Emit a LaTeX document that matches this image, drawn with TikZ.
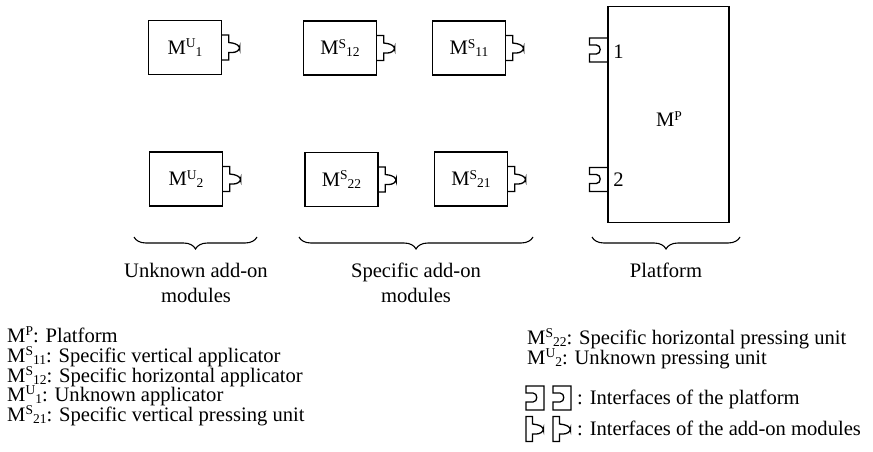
\documentclass[tikz,border=0pt]{standalone}
\usepackage{fontspec}
\setmainfont{Liberation Serif}
\usetikzlibrary{decorations.pathreplacing}
\newcommand{\ModSym}[2]{M\raisebox{0.32em}{\fontsize{13.5}{13.5}\selectfont #1}\raisebox{-0.1em}{\fontsize{13.5}{13.5}\selectfont #2}}
\newcommand{\ModSupOnly}[1]{M\raisebox{0.32em}{\fontsize{13.5}{13.5}\selectfont #1}}
\tikzset{
  every node/.style={font=\fontsize{20.6}{20.6}\selectfont, inner sep=0pt},
  modbox/.style={draw, line width=1.4pt, minimum width=73pt, minimum height=54pt},
  platbox/.style={draw, line width=1.4pt, minimum width=121pt, minimum height=216pt},
  bracestyle/.style={decorate, decoration={brace, amplitude=12pt}, line width=1.1pt},
  legtext/.style={anchor=base west},
  grouptext/.style={anchor=base},
  plug/.pic={\draw[line width=1.3pt] (0,-12.5) -- (6.5,-12.5) -- (6.5,-5)
      [rounded corners=2.5pt] -- (13,-4) -- (17.5,-1) -- (17.5,2) -- (13,5)
      [sharp corners] -- (6.5,5) -- (6.5,12.5) -- (0,12.5);},
  plugsym/.pic={\draw[line width=1.3pt] (0,-12.5) -- (6.5,-12.5) -- (6.5,-5)
      [rounded corners=2.5pt] -- (13,-4) -- (17.5,-1) -- (17.5,2) -- (13,5)
      [sharp corners] -- (6.5,5) -- (6.5,12.5) -- (0,12.5) -- cycle;},
  socket/.pic={\draw[line width=1.3pt] (0,-12) -- (-19,-12) -- (-19,-5) -- (-12,-5)
      .. controls (-7,-5) and (-7,4) .. (-12,4) -- (-19,4) -- (-19,12) -- (0,12);},
  socketsym/.pic={\draw[line width=1.3pt] (0,-12) -- (-18,-12) -- (-18,-5) -- (-11,-5)
      .. controls (-6,-5) and (-6,4) .. (-11,4) -- (-18,4) -- (-18,12) -- (0,12) -- cycle;},
}
\begin{document}
\begin{tikzpicture}[x=1pt,y=-1pt]
\useasboundingbox (0,0) rectangle (873,452);

% add-on modules
\node[modbox] (mu1) at (185,47.5) {\ModSym{U}{1}};
\node[modbox] (mu2) at (186,179) {\ModSym{U}{2}};
\node[modbox] (ms12) at (340,48) {\ModSym{S}{12}};
\node[modbox] (ms11) at (469,48) {\ModSym{S}{11}};
\node[modbox] (ms22) at (341.5,179.5) {\ModSym{S}{22}};
\node[modbox] (ms21) at (471,179) {\ModSym{S}{21}};
\foreach \m in {mu1,mu2,ms12,ms11,ms22,ms21} {\pic at (\m.east) {plug};}

% platform
\node[platbox] (mp) at (668.5,114.5) {};
\node (mpl) at (669,119) {\ModSupOnly{P}};
\coordinate (s1) at (608.4,50);
\coordinate (s2) at (608.4,179.5);
\pic at (s1) {socket};
\pic at (s2) {socket};
\node (n1) at (618.5,52) {1};
\node (n2) at (618.5,180) {2};

% braces
\coordinate (b1l) at (134,237); \coordinate (b1r) at (257,237);
\coordinate (b2l) at (299,237); \coordinate (b2r) at (533,237);
\coordinate (b3l) at (592,237); \coordinate (b3r) at (740,237);
\draw[bracestyle] (b1r) -- (b1l);
\draw[bracestyle] (b2r) -- (b2l);
\draw[bracestyle] (b3r) -- (b3l);

\node[grouptext] (g1a) at (196,277) {Unknown add-on};
\node[grouptext] (g1b) at (196,302) {modules};
\node[grouptext] (g2a) at (416,277) {Specific add-on};
\node[grouptext] (g2b) at (416,302) {modules};
\node[grouptext] (g3a) at (666,277) {Platform};

% left legend
\node[legtext] (l1) at (7,342.5) {\ModSupOnly{P}: Platform};
\node[legtext] (l2) at (7,362.5) {\ModSym{S}{11}: Specific vertical applicator};
\node[legtext] (l3) at (7,382) {\ModSym{S}{12}: Specific horizontal applicator};
\node[legtext] (l4) at (7,401.5) {\ModSym{U}{1}: Unknown applicator};
\node[legtext] (l5) at (7,421) {\ModSym{S}{21}: Specific vertical pressing unit};

% right legend
\node[legtext] (r1) at (527,344) {\ModSym{S}{22}: Specific horizontal pressing unit};
\node[legtext] (r2) at (527,364) {\ModSym{U}{2}: Unknown pressing unit};
\pic at (544,398) {socketsym};
\pic at (571,398) {socketsym};
\node[legtext] (r3) at (577,404) {: Interfaces of the platform};
\pic at (526,429) {plugsym};
\pic at (553,429) {plugsym};
\node[legtext] (r4) at (577,435) {: Interfaces of the add-on modules};
\end{tikzpicture}
\end{document}
